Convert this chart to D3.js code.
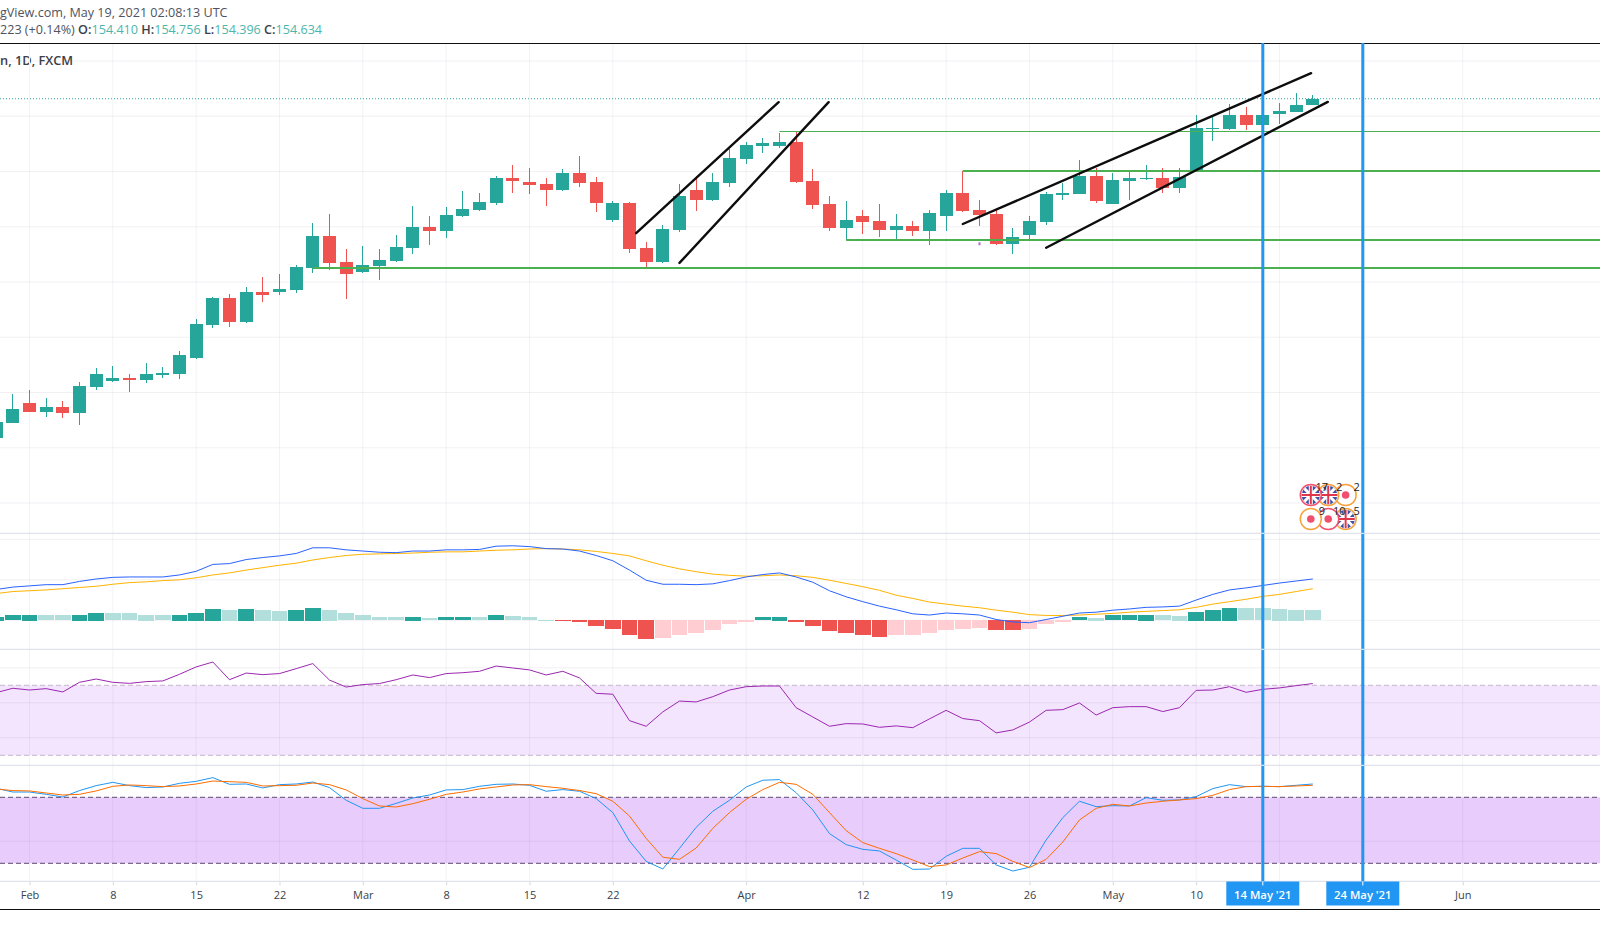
<!DOCTYPE html>
<html>
<head>
<meta charset="utf-8">
<script src="https://cdn.jsdelivr.net/npm/d3@7"></script>
<style>
  html, body { margin: 0; padding: 0; background: #fff; overflow: hidden; }
  svg { display: block; }
  text { font-family: "Open Sans", sans-serif; }
</style>
</head>
<body>
<svg id="chart" width="1600" height="946"></svg>
<script>
// trading days counted from 1 Feb 2021, first candle is day -2
const firstDay = -2
const opens  = [142.36,142.90,143.62,143.30,143.48,143.26,144.20,144.42,144.52,144.45,144.63,144.67,145.25,146.44,147.42,146.55,147.64,147.64,147.71,148.50,149.66,148.72,148.36,148.58,148.76,149.23,149.99,149.84,150.38,150.60,150.85,151.76,151.61,151.54,151.32,151.94,151.61,150.24,150.85,149.23,148.72,149.88,151.32,150.96,151.58,152.45,152.92,152.92,153.06,151.65,150.82,149.95,150.38,150.20,149.88,150.02,149.84,150.38,151.22,150.60,150.46,149.37,149.70,150.17,151.14,151.18,151.83,150.82,151.65,151.72,151.76,151.40,152.01,153.53,153.53,154.04,153.67,154.07,154.15,154.41]
const highs  = [143.08,143.95,144.09,143.80,143.69,144.38,144.89,144.96,144.67,145.07,144.92,145.50,146.66,147.45,147.56,147.82,148.18,148.29,148.61,150.13,150.46,149.19,149.30,149.19,149.70,150.75,150.38,150.71,151.29,151.22,151.83,152.23,152.12,151.76,152.08,152.55,151.79,150.93,150.89,149.44,150.06,151.54,151.83,151.94,152.81,153.06,153.20,153.39,153.42,152.08,151.11,150.93,150.60,150.82,150.46,150.20,150.60,151.32,152.01,150.96,150.60,149.95,150.38,151.25,151.58,152.41,152.12,151.94,152.01,152.23,152.12,152.12,154.04,153.96,154.43,154.33,154.22,154.47,154.83,154.756]
const lows   = [142.25,142.90,143.30,143.11,143.08,142.83,144.09,144.38,144.02,144.34,144.52,144.49,145.21,146.33,146.37,146.51,147.27,147.53,147.60,148.32,148.43,147.38,148.32,148.07,148.72,149.01,149.34,149.59,150.35,150.57,150.78,151.22,151.18,150.75,151.29,151.43,150.53,150.17,149.05,148.54,148.68,149.81,150.57,150.93,151.43,152.27,152.66,152.84,151.58,150.64,149.84,149.52,149.73,149.62,149.55,149.66,149.34,149.84,150.53,150.02,149.34,149.01,149.55,150.06,150.96,151.18,150.85,150.82,150.96,151.69,151.22,151.22,152.01,153.10,153.49,153.49,153.49,153.71,154.15,154.396]
const closes = [142.93,143.40,143.30,143.48,143.26,144.24,144.67,144.52,144.45,144.67,144.71,145.36,146.48,147.42,146.55,147.64,147.53,147.74,148.54,149.66,148.68,148.29,148.61,148.79,149.26,149.99,149.84,150.42,150.64,150.89,151.76,151.65,151.51,151.32,151.94,151.58,150.85,150.85,149.19,148.72,149.91,151.11,150.96,151.61,152.48,152.95,153.02,153.06,151.61,150.78,149.95,150.24,150.17,149.88,150.02,149.84,150.49,151.22,150.57,150.42,149.37,149.62,150.20,151.18,151.22,151.83,150.93,151.69,151.76,151.76,151.40,151.79,153.57,153.57,154.04,153.67,154.04,154.18,154.40,154.634]
const lastClose = 154.634
const priceTicks = [156,154,152,150,148,146,144,142,140]

const macdLine = [.76,.82,.85,.88,.88,.96,1.02,1.06,1.07,1.07,1.07,1.12,1.21,1.38,1.40,1.50,1.55,1.59,1.65,1.79,1.79,1.74,1.71,1.68,1.67,1.71,1.71,1.74,1.74,1.75,1.83,1.84,1.82,1.77,1.76,1.71,1.60,1.47,1.24,.99,.89,.89,.88,.90,.98,1.07,1.13,1.17,1.07,.94,.73,.58,.46,.35,.26,.16,.13,.18,.16,.13,.02,-.04,-.06,.02,.10,.18,.20,.25,.28,.32,.33,.35,.50,.64,.75,.80,.86,.92,.97,1.02]
const signalLine = [.66,.71,.73,.75,.78,.81,.84,.89,.93,.95,.98,1.00,1.05,1.12,1.17,1.24,1.30,1.36,1.41,1.49,1.55,1.60,1.63,1.64,1.65,1.66,1.68,1.69,1.69,1.71,1.73,1.74,1.76,1.77,1.76,1.74,1.70,1.65,1.59,1.47,1.36,1.27,1.20,1.14,1.11,1.09,1.10,1.12,1.10,1.06,.99,.91,.83,.74,.62,.54,.45,.40,.35,.31,.25,.20,.14,.12,.12,.13,.15,.17,.20,.22,.24,.26,.32,.40,.46,.52,.59,.64,.71,.78]
const histogram = [.09,.13,.14,.135,.12,.14,.19,.185,.17,.14,.12,.14,.19,.29,.26,.29,.26,.24,.26,.31,.26,.17,.12,.08,.07,.09,.06,.07,.08,.07,.12,.11,.07,.01,-.01,-.06,-.14,-.21,-.36,-.48,-.45,-.38,-.31,-.24,-.11,-.04,.07,.09,-.04,-.16,-.28,-.33,-.38,-.41,-.38,-.37,-.33,-.24,-.21,-.19,-.24,-.25,-.21,-.11,-.04,.07,.065,.12,.125,.14,.12,.115,.21,.26,.31,.305,.30,.29,.26,.255]
const macdTicks = [2,1,0]

const rsi = [65.8,68.3,67.3,68.1,66.2,71.7,73.6,71.7,71.1,72.1,72.5,76.3,80.5,83.3,73.2,77.0,76.1,76.7,79.5,82.4,73.0,69.0,70.4,71.0,73.2,75.9,74.4,76.7,77.2,78.0,81.0,79.9,78.8,75.9,78.0,74.2,65.4,64.9,49.8,46.6,54.8,61.0,60.5,63.5,67.3,69.2,69.6,69.6,57.2,51.9,46.6,48.1,47.9,46.0,46.8,45.8,50.8,55.7,51.0,49.8,42.8,44.5,49.0,55.7,56.1,59.9,53.0,57.2,57.8,57.8,55.0,57.2,67.1,67.3,69.2,66.0,67.7,68.5,69.8,71.0]
const rsiTicks = [80,60,40]
const rsiBand = [70,30]

const stochK = [88.2,84.8,84.8,82.7,80.3,86.1,90.6,93.6,90.6,88.8,89.4,92.7,94.5,97.9,91.8,92.1,88.5,91.5,92.1,93.9,88.8,77.3,70,70,74.5,79.4,82.1,86.7,87,90,91.8,92.1,90.9,85.5,87,85.5,78.8,66.1,40.3,21.8,14.8,33.6,52.7,67.3,77.3,89.4,95.5,96.1,84.2,68.5,47,37,32.7,31.2,23,14.5,14.8,26.4,33.6,33.6,18.5,13,16.4,41.2,61.5,76.4,71.5,72.4,72.1,79.7,77.3,77.6,80.6,87.9,91.5,89.7,90,89.7,90.9,92.1]
const stochD = [87.6,86.1,85.8,83.9,82.1,82.7,85.8,90,91.2,90.6,89.7,90.3,92.1,94.8,94.2,93.6,90.3,90.6,90.9,93,91.5,86.7,78.8,72.1,71.2,74.2,78.2,82.7,84.8,87.6,89.4,91.2,91.5,89.7,88.2,86.1,83.3,76.4,63,42.7,25.5,23.6,33.9,51.8,66.1,78.2,87,93.6,91.8,82.7,66.1,49.7,38.8,33.6,28.8,23,17,18.5,24.8,30.6,28.8,21.8,16.1,23.6,39.4,59.4,70,73.6,72.1,74.8,76.4,77.6,78.8,81.8,87,89.7,90,89.7,90.3,90.9]
const stochTicks = [40]
const stochBand = [80,20]

// support levels: price, first day
const levelPrices = [148.50, 149.52, 152.02, 153.48]
const levelStart  = [17, 49, 56, 45]
// trend channel segments, [day, price]
const channels = [
  [[36.4, 149.77], [44.95, 154.51]],
  [[39, 148.69], [47.95, 154.51]],
  [[56, 150.10], [76.9, 155.56]],
  [[61, 149.24], [77.9, 154.52]]
]
const markerDays = [74, 80]
const markerLabels = ["14 May '21", "24 May '21"]
const tickDays   = [0,5,10,15,20,25,30,35,43,50,55,60,65,70,75,80,86]
const tickLabels = ["Feb","8","15","22","Mar","8","15","22","Apr","12","19","26","May","10","","","Jun"]

// economic events: count, whether flag or dot
const eventCounts = ["17","2","2","9","10","5"]
const eventFlag   = [true,true,false,false,false,true]
const eventRing   = ["#f0506e","#f7a13b","#f7a13b","#f7a13b","#f0506e","#f7a13b"]

const UP = "#26a69a", DOWN = "#ef5350", GRID = "#f2f3f5", SEP = "#e0e3eb", BAND = "#9f2bee"
const W = 1600

const svg = d3.select("#chart")
const x = d3.scaleLinear().domain([0, 86]).range([29.5, 1462.8])
const y = d3.scaleLinear().domain([156, 140]).range([61, 503])
const yMacd = d3.scaleLinear().domain([2, 0]).range([539.3, 620.3])
const yRsi = d3.scaleLinear().domain([80, 40]).range([667.8, 737.8])
const yStoch = d3.scaleLinear().domain([80, 20]).range([797.3, 863.3])
const days = closes.map((_, i) => firstDay + i)
const sepY = [533.3, 649.3, 765.3, 881.3]

// header
const header = svg.append("g")
header.append("text").attr("x", 0).attr("y", 17).attr("font-size", 12.6).attr("fill", "#50535e")
  .text("gView.com, May 19, 2021 02:08:13 UTC")
const ohlc = header.append("text").attr("x", 0).attr("y", 34).attr("font-size", 12.6).attr("fill", "#50535e")
ohlc.append("tspan").text("223 (+0.14%) ")
;[["O:", "154.410"], ["H:", "154.756"], ["L:", "154.396"], ["C:", "154.634"]].forEach(([k, v]) => {
  ohlc.append("tspan").attr("font-weight", 600).attr("fill", "#3b3e47").text(k)
  ohlc.append("tspan").attr("fill", "#4db6ac").text(v + " ")
})
header.append("text").attr("x", 0).attr("y", 65).attr("font-size", 12.8).attr("font-weight", 600)
  .attr("fill", "#3b3e47").text("n, 1D, FXCM")

// vertical grid and time axis
const axis = svg.append("g").attr("transform", `translate(0,${sepY[3]})`)
  .call(d3.axisBottom(x).tickValues(tickDays).tickSize(4).tickPadding(6)
    .tickFormat(d => tickLabels[tickDays.indexOf(d)]))
axis.select(".domain").remove()
axis.selectAll(".tick line").attr("stroke", "#d6d8de")
axis.selectAll("text").attr("fill", "#3b3e47").attr("font-size", 11)
  .attr("font-family", '"DejaVu Sans", sans-serif')

svg.append("g").selectAll("line").data(tickDays).enter().append("line")
  .attr("x1", d => x(d)).attr("x2", d => x(d)).attr("y1", 44).attr("y2", sepY[3])
  .attr("stroke", GRID).attr("stroke-width", 1)

// indicator bands sit above the vertical grid so they tint through it
const bands = svg.append("g")
bands.append("rect").attr("x", 0).attr("width", W)
  .attr("y", yRsi(rsiBand[0])).attr("height", yRsi(rsiBand[1]) - yRsi(rsiBand[0]))
  .attr("fill", BAND).attr("fill-opacity", 0.12)
bands.append("rect").attr("x", 0).attr("width", W)
  .attr("y", yStoch(stochBand[0])).attr("height", yStoch(stochBand[1]) - yStoch(stochBand[0]))
  .attr("fill", BAND).attr("fill-opacity", 0.24)

// horizontal grid per panel
function hGrid(values, scale) {
  svg.append("g").selectAll("line").data(values).enter().append("line")
    .attr("x1", 0).attr("x2", W).attr("y1", d => scale(d)).attr("y2", d => scale(d))
    .attr("stroke", "#7a6a88").attr("stroke-opacity", 0.1)
}
hGrid(priceTicks, y)
hGrid(macdTicks, yMacd)
hGrid(rsiTicks, yRsi)
hGrid(stochTicks, yStoch)

// dashed band limits
function bandLines(values, scale, color) {
  svg.append("g").selectAll("line").data(values).enter().append("line")
    .attr("x1", 0).attr("x2", W).attr("y1", d => scale(d)).attr("y2", d => scale(d))
    .attr("stroke", color).attr("stroke-dasharray", "5,3")
}
bandLines(rsiBand, yRsi, "#c2b6c9")
bandLines(stochBand, yStoch, "#5e4a72")

// price line
svg.append("line").attr("x1", 0).attr("x2", W).attr("y1", y(lastClose)).attr("y2", y(lastClose))
  .attr("stroke", UP).attr("stroke-dasharray", "1,2")

// candles, snapped to whole pixels so the edges stay hard
const candleW = 13
const candle = svg.append("g").attr("shape-rendering", "crispEdges")
  .selectAll("g").data(days).enter().append("g")
  .attr("fill", (d, i) => closes[i] >= opens[i] ? UP : DOWN)
candle.append("rect")
  .attr("x", d => Math.floor(x(d))).attr("width", 1)
  .attr("y", (d, i) => Math.round(y(highs[i])))
  .attr("height", (d, i) => Math.round(y(lows[i])) - Math.round(y(highs[i])))
candle.append("rect")
  .attr("x", d => Math.floor(x(d)) - 6).attr("width", candleW)
  .attr("y", (d, i) => Math.round(y(Math.max(opens[i], closes[i]))))
  .attr("height", (d, i) => Math.max(1, Math.abs(Math.round(y(opens[i])) - Math.round(y(closes[i])))))

// levels
svg.append("g").selectAll("line").data(levelPrices).enter().append("line")
  .attr("x1", (d, i) => x(levelStart[i])).attr("x2", W)
  .attr("y1", (d, i) => Math.round(y(d)) + (i === 3 ? 0.5 : 0))
  .attr("y2", (d, i) => Math.round(y(d)) + (i === 3 ? 0.5 : 0))
  .attr("stroke", "#4caf50").attr("stroke-width", (d, i) => i === 3 ? 1 : 2)

// channels
const chLine = d3.line().x(d => x(d[0])).y(d => y(d[1]))
svg.append("g").selectAll("path").data(channels).enter().append("path")
  .attr("d", chLine).attr("fill", "none").attr("stroke", "#0d0d0d")
  .attr("stroke-width", 2.4).attr("stroke-linecap", "round")

// stray mark near 22 Apr
svg.append("line").attr("x1", x(57)).attr("x2", x(57)).attr("y1", y(149.44)).attr("y2", y(149.33))
  .attr("stroke", "#ba68c8").attr("stroke-width", 2)

// macd
const halfBar = 7.8
svg.append("g").attr("shape-rendering", "crispEdges")
  .selectAll("rect").data(days).enter().append("rect")
  .attr("x", d => Math.round(x(d) - halfBar))
  .attr("width", d => Math.round(x(d) + halfBar) - Math.round(x(d) - halfBar))
  .attr("y", (d, i) => Math.round(yMacd(Math.max(0, histogram[i]))))
  .attr("height", (d, i) => Math.max(1, Math.round(Math.abs(yMacd(histogram[i]) - yMacd(0)))))
  .attr("fill", (d, i) => {
    const v = histogram[i], rising = i === 0 || v > histogram[i - 1]
    if (v >= 0) return rising ? UP : "#b2dfdb"
    return rising ? "#ffcdd2" : DOWN
  })

function drawLine(values, scale, color) {
  const line = d3.line().x((v, i) => x(days[i])).y(v => scale(v))
  svg.append("path").datum(values).attr("d", line).attr("fill", "none")
    .attr("stroke", color).attr("stroke-width", 1).attr("stroke-linejoin", "round")
}
drawLine(signalLine, yMacd, "#ffb300")
drawLine(macdLine, yMacd, "#2962ff")
drawLine(rsi, yRsi, "#9c27b0")
drawLine(stochK, yStoch, "#2196f3")
drawLine(stochD, yStoch, "#ff6d00")

// panel separators and frame
svg.append("g").selectAll("line").data(sepY).enter().append("line")
  .attr("x1", 0).attr("x2", W).attr("y1", d => d).attr("y2", d => d)
  .attr("stroke", SEP).attr("stroke-width", 1.2)
svg.append("line").attr("x1", 0).attr("x2", W).attr("y1", 43.5).attr("y2", 43.5).attr("stroke", "#111")
svg.append("line").attr("x1", 0).attr("x2", W).attr("y1", 909.5).attr("y2", 909.5).attr("stroke", "#111")

// event badges, first one ends up on top; counts go over all of them
const evX = d3.scalePoint().domain([0, 1, 2]).range([x(77) - 2, x(79) - 0.5])
const evY = d3.scalePoint().domain([0, 1]).range([495, 519])
const evPos = (d, i) => `translate(${evX(i % 3)},${evY(Math.floor(i / 3))})`
const defs = svg.append("defs")
defs.append("clipPath").attr("id", "flagClip").append("circle").attr("r", 9.2)
const evLayer = svg.append("g")
const ev = evLayer.selectAll("g").data(eventCounts).enter().append("g")
  .attr("transform", evPos)
ev.sort((a, b) => 0).each(function () { this.parentNode.insertBefore(this, this.parentNode.firstChild) })
ev.append("circle").attr("r", 10.5).attr("fill", "#fff")
  .attr("stroke", (d, i) => eventRing[i]).attr("stroke-width", 1.5)
ev.filter((d, i) => !eventFlag[i]).append("circle").attr("r", 3.8).attr("fill", "#f0506e")
const flag = ev.filter((d, i) => eventFlag[i]).append("g").attr("clip-path", "url(#flagClip)")
flag.append("rect").attr("x", -10).attr("y", -10).attr("width", 20).attr("height", 20).attr("fill", "#3f51a5")
flag.append("path").attr("d", "M-10,-10L10,10M10,-10L-10,10").attr("stroke", "#fff").attr("stroke-width", 3)
flag.append("path").attr("d", "M0,-10V10M-10,0H10").attr("stroke", "#fff").attr("stroke-width", 4)
flag.append("path").attr("d", "M0,-10V10M-10,0H10").attr("stroke", "#e0364c").attr("stroke-width", 2)
svg.append("g").selectAll("text").data(eventCounts).enter().append("text")
  .attr("transform", evPos).attr("x", 11).attr("y", -4).attr("text-anchor", "middle")
  .attr("font-size", 11).attr("fill", "#222").text(d => d)

// date markers
const marker = svg.append("g").selectAll("g").data(markerDays).enter().append("g")
marker.append("line").attr("x1", d => x(d)).attr("x2", d => x(d)).attr("y1", 43).attr("y2", sepY[3])
  .attr("stroke", "#2196f3").attr("stroke-width", 3)
marker.selectAll(".gap").data(sepY.slice(0, 3)).enter().append("line")
  .attr("x1", function () { return x(d3.select(this.parentNode).datum()) - 1.5 })
  .attr("x2", function () { return x(d3.select(this.parentNode).datum()) + 1.5 })
  .attr("y1", d => d).attr("y2", d => d).attr("stroke", "#fff")
marker.append("rect").attr("x", d => x(d) - 36.5).attr("width", 73).attr("y", 881.5).attr("height", 24)
  .attr("fill", "#2196f3")
marker.append("line").attr("x1", d => x(d)).attr("x2", d => x(d)).attr("y1", 881.5).attr("y2", 885.5)
  .attr("stroke", "#fff")
marker.append("text").attr("x", d => x(d)).attr("y", 899).attr("text-anchor", "middle")
  .attr("font-size", 11.3).attr("font-weight", 600).attr("fill", "#fff")
  .text((d, i) => markerLabels[i])
</script>
</body>
</html>
